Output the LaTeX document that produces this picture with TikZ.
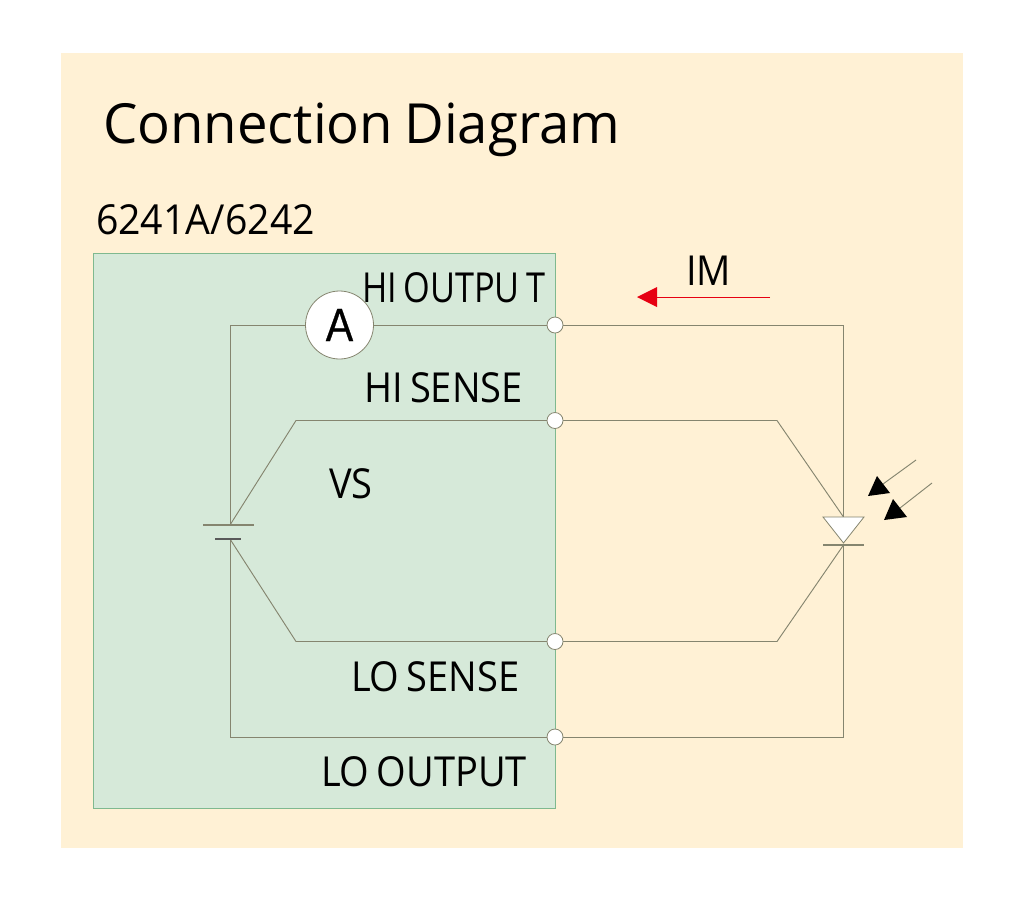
\documentclass[tikz,border=0pt]{standalone}
\usepackage{fontspec}
\setmainfont{Open Sans}
\newfontfamily\titlefont[FakeStretch=0.985,WordSpace=0.8]{Open Sans}
\newfontfamily\labelfont[FakeStretch=0.92,WordSpace=0.75]{Open Sans}
\newfontfamily\modelfont[FakeStretch=0.95]{Open Sans}
\newfontfamily\hiofont[FakeStretch=0.83,WordSpace=0.75]{Open Sans}
\newfontfamily\meterfont[FakeBold=0.6,FakeStretch=0.88]{Liberation Sans}
\definecolor{pagebg}{HTML}{FFF1D5}
\definecolor{panelbg}{HTML}{D6E9D9}
\definecolor{panelln}{HTML}{7FB98F}
\definecolor{wirec}{HTML}{85856F}
\definecolor{redc}{HTML}{E60012}
\tikzset{
  lbl/.style={inner sep=0pt,outer sep=0pt,anchor=base west,text=black},
  big/.style={lbl,font=\labelfont\fontsize{31}{31}\selectfont},
  modellbl/.style={lbl,font=\modelfont\fontsize{31}{31}\selectfont},
  hiolbl/.style={lbl,font=\hiofont\fontsize{31}{31}\selectfont},
  bigb/.style={lbl,font=\titlefont\fontsize{41.5}{41.5}\selectfont},
  wire/.style={draw=wirec,line width=0.7pt},
  terminal/.style={circle,draw=wirec,fill=white,line width=0.6pt,minimum size=12pt,inner sep=0pt},
  meter/.style={circle,draw=wirec,fill=white,line width=0.6pt,minimum size=51pt,inner sep=0pt,font=\meterfont\fontsize{35}{35}\selectfont},
  plate/.style={draw=wirec,line width=0.8pt},
  plateb/.style={draw=black!65,line width=1.2pt},
}
\begin{document}
\begin{tikzpicture}[x=0.75pt,y=-0.75pt]
\useasboundingbox (0,0) rectangle (1024,901);
\fill[white] (0,0) rectangle (1024,901);
\fill[pagebg] (61,53) rectangle (963,848);
\filldraw[fill=panelbg,draw=panelln,line width=0.6pt] (93,253) rectangle (555,808);

\node[bigb] (title) at (103,143) {Connection Diagram};
\node[modellbl] (model) at (96,234) {6241A/6242};
\node[hiolbl] (hio) at (362,302) {HI OUTPU T};
\node[big] (his) at (364,402) {HI SENSE};
\node[big] (vs) at (329,498) {VS};
\node[big] (los) at (351,691) {LO SENSE};
\node[big] (loo) at (321,786) {LO OUTPUT};
\node[big] (im) at (686,285) {IM};

\coordinate (batP) at (230,525);
\coordinate (batN) at (230,539);
\coordinate (dA) at (843.5,517);
\coordinate (dK) at (843.5,545);
\coordinate (s1) at (296,420.5);
\coordinate (s2) at (777,420.5);
\coordinate (s3) at (296,641.5);
\coordinate (s4) at (777,641.5);
\coordinate (tl) at (230,325);
\coordinate (tr) at (843.5,325);
\coordinate (bl) at (230,737);
\coordinate (br) at (843.5,737);

\draw[wire] (batP) -- (tl) -- (339,325) -- (555,325) -- (tr) -- (dA);
\draw[wire] (batP) -- (s1) -- (555,420.5) -- (s2) -- (dA);
\draw[wire] (batN) -- (s3) -- (555,641.5) -- (s4) -- (dK);
\draw[wire] (batN) -- (bl) -- (555,737) -- (br) -- (dK);

\node[meter] (A) at (339.5,325) {A};
\node[terminal] (t1) at (555,325) {};
\node[terminal] (t2) at (555,420.5) {};
\node[terminal] (t3) at (555,641.5) {};
\node[terminal] (t4) at (555,737) {};

\draw[plate] (203,525) -- (254,525);
\draw[plateb] (215,539) -- (241,539);

\filldraw[fill=white,draw=wirec,line width=0.6pt] (823,517) -- (864,517) -- (843.5,543) -- cycle;
\draw[plate] (823,545) -- (864,545);

\draw[wire] (916,460) -- (883,484);
\draw[wire] (932,483) -- (900,508);
\fill[black] (877,476) -- (868,496) -- (890,493) -- cycle;
\fill[black] (893,499) -- (884,520) -- (907,517) -- cycle;

\draw[draw=redc,line width=0.7pt] (770,297) -- (650,297);
\fill[redc] (637,297) -- (657,287) -- (657,307) -- cycle;
\end{tikzpicture}
\end{document}
